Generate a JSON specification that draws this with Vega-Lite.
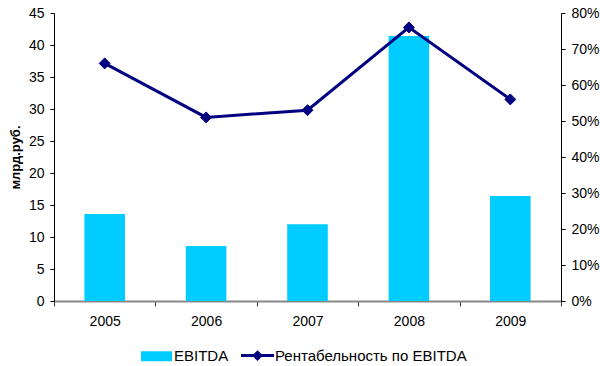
{
  "$schema": "https://vega.github.io/schema/vega-lite/v6.json",
  "width": 507,
  "height": 288,
  "autosize": {"type": "none"},
  "padding": {"left": 54, "top": 13, "right": 39, "bottom": 65},
  "background": "#ffffff",
  "config": {
    "font": "Liberation Sans",
    "view": {"stroke": null},
    "axis": {
      "labelFont": "Liberation Sans",
      "labelFontSize": 14,
      "labelColor": "#000000",
      "grid": false
    }
  },
  "data": {
    "values": [
      {"year": "2005", "ebitda": 13.6, "margin": 0.66},
      {"year": "2006", "ebitda": 8.6, "margin": 0.51},
      {"year": "2007", "ebitda": 12.0, "margin": 0.53},
      {"year": "2008", "ebitda": 41.4, "margin": 0.76},
      {"year": "2009", "ebitda": 16.4, "margin": 0.56}
    ]
  },
  "encoding": {
    "x": {
      "field": "year",
      "type": "nominal",
      "scale": {"paddingInner": 0, "paddingOuter": 0},
      "axis": {
        "title": null,
        "labelAngle": 0,
        "tickBand": "extent",
        "domainColor": "#888888",
        "domainWidth": 2,
        "tickColor": "#333333",
        "tickSize": 5,
        "labelPadding": 8
      }
    }
  },
  "layer": [
    {
      "mark": {"type": "bar", "width": {"band": 0.4}},
      "encoding": {
        "y": {
          "field": "ebitda",
          "type": "quantitative",
          "scale": {"domain": [0, 45]},
          "axis": {
            "title": "млрд.руб.",
            "titleFont": "Liberation Sans",
            "titleFontSize": 13,
            "titleFontWeight": "bold",
            "titleColor": "#000000",
            "titlePadding": 6,
            "values": [0, 5, 10, 15, 20, 25, 30, 35, 40, 45],
            "domainColor": "#000000",
            "tickColor": "#000000",
            "tickSize": 4,
            "labelPadding": 6
          }
        },
        "color": {
          "datum": "EBITDA",
          "scale": {
            "domain": ["EBITDA", "Рентабельность по EBITDA"],
            "range": ["#00CCFF", "#000080"]
          },
          "legend": {
            "title": null,
            "orient": "none",
            "direction": "horizontal",
            "legendX": 95,
            "legendY": 335,
            "padding": 0,
            "symbolSize": 1089,
            "symbolOpacity": 1,
            "labelFont": "Liberation Sans",
            "labelFontSize": 15,
            "labelColor": "#000000",
            "labelLimit": 400,
            "labelOffset": 10,
            "columnPadding": 6,
            "encode": {
              "symbols": {
                "update": {
                  "shape": {"signal": "datum.value === 'EBITDA' ? 'M-0.94,-0.3H0.94V0.3H-0.94Z' : 'M-1,0H1M0,-0.2L0.2,0L0,0.2L-0.2,0Z'"},
                  "fill": {"signal": "datum.value === 'EBITDA' ? '#00CCFF' : '#000080'"},
                  "stroke": {"signal": "datum.value === 'EBITDA' ? '#00CCFF' : '#000080'"},
                  "strokeWidth": {"signal": "datum.value === 'EBITDA' ? 0 : 3"},
                  "opacity": {"value": 1}
                }
              }
            }
          }
        }
      }
    },
    {
      "mark": {
        "type": "line",
        "strokeWidth": 3,
        "point": {"filled": true, "shape": "diamond", "size": 120, "stroke": "#000080", "strokeWidth": 1}
      },
      "encoding": {
        "y": {
          "field": "margin",
          "type": "quantitative",
          "scale": {"domain": [0, 0.8]},
          "axis": {
            "title": null,
            "orient": "right",
            "format": ".0%",
            "values": [0, 0.1, 0.2, 0.3, 0.4, 0.5, 0.6, 0.7, 0.8],
            "domainColor": "#000000",
            "tickColor": "#000000",
            "tickSize": 4,
            "labelPadding": 6
          }
        },
        "color": {"datum": "Рентабельность по EBITDA"}
      }
    }
  ],
  "resolve": {"scale": {"y": "independent"}}
}
